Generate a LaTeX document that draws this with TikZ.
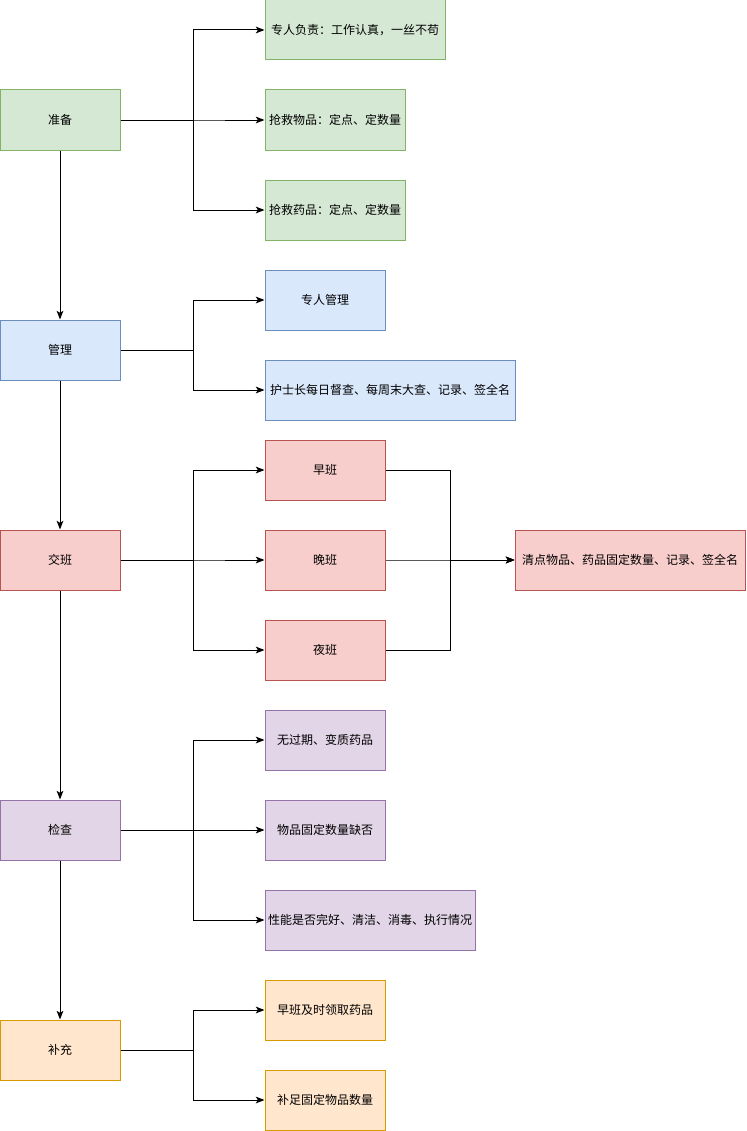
\documentclass[tikz,border=0pt]{standalone}
\usepackage{fontspec}
\setmainfont{Noto Sans CJK SC}
\usetikzlibrary{arrows.meta}
\definecolor{gF}{HTML}{D5E8D4}\definecolor{gS}{HTML}{82B366}
\definecolor{bF}{HTML}{DAE8FC}\definecolor{bS}{HTML}{6C8EBF}
\definecolor{rF}{HTML}{F8CECC}\definecolor{rS}{HTML}{B85450}
\definecolor{pF}{HTML}{E1D5E7}\definecolor{pS}{HTML}{9673A6}
\definecolor{oF}{HTML}{FFE6CC}\definecolor{oS}{HTML}{D79B00}
\begin{document}
\begin{tikzpicture}[x=0.75pt,y=-0.75pt,
  box/.style={rectangle,draw,line width=0.75pt,inner sep=0pt,minimum height=45pt,font=\fontsize{9pt}{11pt}\selectfont},
  w120/.style={minimum width=90pt},
  green/.style={fill=gF,draw=gS},
  blue/.style={fill=bF,draw=bS},
  red/.style={fill=rF,draw=rS},
  purple/.style={fill=pF,draw=pS},
  orange/.style={fill=oF,draw=oS},
  arr/.style={line width=0.75pt,-{Stealth[length=6.5pt,width=5pt,inset=1.5pt]}},
  ln/.style={line width=0.75pt}]
\useasboundingbox (0,0) rectangle (746,1131);
% main column
\node[box,w120,green] (zb) at (60,120) {准备};
\node[box,w120,blue] (gl) at (60,350) {管理};
\node[box,w120,red] (jb) at (60,560) {交班};
\node[box,w120,purple] (jc) at (60,830) {检查};
\node[box,w120,orange] (bc) at (60,1050) {补充};
% 准备 children
\node[box,minimum width=135pt,green] (a1) at (355,30) {专人负责：工作认真，一丝不苟};
\node[box,minimum width=105pt,green] (a2) at (335,120) {抢救物品：定点、定数量};
\node[box,minimum width=105pt,green] (a3) at (335,210) {抢救药品：定点、定数量};
% 管理 children
\node[box,w120,blue] (b1) at (325,300) {专人管理};
\node[box,minimum width=187.5pt,blue] (b2) at (390,390) {护士长每日督查、每周末大查、记录、签全名};
% 交班 children
\node[box,w120,red] (c1) at (325,470) {早班};
\node[box,w120,red] (c2) at (325,560) {晚班};
\node[box,w120,red] (c3) at (325,650) {夜班};
\node[box,minimum width=172.5pt,red] (cc) at (630,560) {清点物品、药品固定数量、记录、签全名};
% 检查 children
\node[box,w120,purple] (d1) at (325,740) {无过期、变质药品};
\node[box,w120,purple] (d2) at (325,830) {物品固定数量缺否};
\node[box,minimum width=157.5pt,purple] (d3) at (370,920) {性能是否完好、清洁、消毒、执行情况};
% 补充 children
\node[box,w120,orange] (e1) at (325,1010) {早班及时领取药品};
\node[box,w120,orange] (e2) at (325,1100) {补足固定物品数量};
% vertical main arrows
\draw[arr] (zb.south) -- (gl.north);
\draw[arr] (gl.south) -- (jb.north);
\draw[arr] (jb.south) -- (jc.north);
\draw[arr] (jc.south) -- (bc.north);
% branches
\foreach \p/\c in {zb/a1,zb/a2,zb/a3,gl/b1,gl/b2,jb/c1,jb/c2,jb/c3,jc/d1,jc/d2,jc/d3,bc/e1,bc/e2}
  \draw[arr] (\p.east) -- ++(72.5,0) |- (\c.west);
\foreach \c in {c1,c2,c3}
  \draw[arr] (\c.east) -- ++(65,0) |- (cc.west);
\end{tikzpicture}
\end{document}
